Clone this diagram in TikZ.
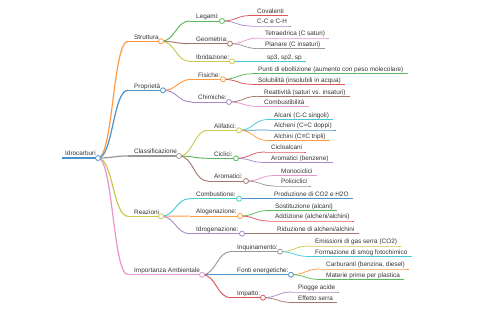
\documentclass[tikz,border=0pt]{standalone}
\usepackage{fontspec}
\setmainfont{Liberation Sans}
\usetikzlibrary{calc}
\definecolor{k0}{HTML}{4A92C8}
\definecolor{k1}{HTML}{FF9A42}
\definecolor{k2}{HTML}{5CB85C}
\definecolor{k3}{HTML}{DE5657}
\definecolor{k4}{HTML}{A98BCC}
\definecolor{k5}{HTML}{A3786F}
\definecolor{k6}{HTML}{E993CF}
\definecolor{k7}{HTML}{999999}
\definecolor{k8}{HTML}{C9CA4E}
\definecolor{k9}{HTML}{45CBD9}
\definecolor{txt}{HTML}{333333}
\newcommand\mmInner[7]{% id, color, lw, startx, y, circlex, text
  \coordinate (s#1) at (#4,#5);
  \coordinate (c#1) at (#6,#5);
  \node[mmtext] (t#1) at (#4+6,#5-2.2) {#7};
  \draw[#2,line width=#3] (s#1) -- (c#1);
}
\newcommand\mmLeaf[6]{% id, color, lw, startx, y, text
  \coordinate (s#1) at (#4,#5);
  \node[mmtext] (t#1) at (#4+6,#5-2.2) {#6};
  \draw[#2,line width=#3] (s#1) -- (s#1 -| t#1.east) -- ++(4,0);
}
\newcommand\mmLink[4]{% color, lw, from, to
  \draw[#1,line width=#2] let \p1=(#3), \p2=(#4) in
    (\p1) .. controls (\x1/2+\x2/2,\y1) and (\x1/2+\x2/2,\y2) .. (\p2);
}
\newcommand\mmDot[2]{\node[mmdot,draw=#2] (d#1) at (c#1) {};}
\tikzset{
  mmtext/.style={anchor=base west,inner sep=0pt,text=txt,font=\fontsize{6.4}{7}\selectfont},
  mmdot/.style={circle,fill=white,line width=0.8pt,minimum size=5pt,inner sep=0pt},
}
\begin{document}
\begin{tikzpicture}[x=1pt,y=-1pt]
\useasboundingbox (0,0) rectangle (480,320);
% root
\coordinate (sR) at (62,158);
\coordinate (cR) at (98,158);
\node[mmtext] (tR) at (65,155.8) {Idrocarburi};
\draw[k0,line width=1.6pt] (sR) -- (cR);
% level 1
\mmInner{A}{k1}{1.2pt}{128}{41.3}{161}{Struttura}
\mmInner{B}{k0}{1.2pt}{128}{90.3}{163}{Proprietà}
\mmInner{C}{k7}{1.2pt}{128}{156}{179}{Classificazione}
\mmInner{D}{k8}{1.2pt}{128}{216.3}{161}{Reazioni}
\mmInner{E}{k6}{1.2pt}{128}{274.7}{202}{Importanza Ambientale}
% level 2
\mmInner{A1}{k2}{0.95pt}{190}{21}{222}{Legami:}
\mmInner{A2}{k5}{0.95pt}{190}{43.7}{230}{Geometria:}
\mmInner{A3}{k8}{0.95pt}{190}{61.3}{232}{Ibridazione:}
\mmInner{B1}{k1}{0.95pt}{192}{79.3}{223}{Fisiche:}
\mmInner{B2}{k4}{0.95pt}{192}{102}{229}{Chimiche:}
\mmInner{C1}{k8}{0.95pt}{208}{130.3}{239}{Alifatici:}
\mmInner{C2}{k2}{0.95pt}{208}{158.3}{236}{Ciclici:}
\mmInner{C3}{k5}{0.95pt}{208}{181}{246}{Aromatici:}
\mmInner{D1}{k9}{0.95pt}{190}{198.7}{239}{Combustione:}
\mmInner{D2}{k1}{0.95pt}{190}{216}{240}{Alogenazione:}
\mmInner{D3}{k4}{0.95pt}{190}{233.7}{242}{Idrogenazione:}
\mmInner{E1}{k7}{0.95pt}{231}{251.7}{280}{Inquinamento:}
\mmInner{E2}{k0}{0.95pt}{231}{274.7}{291}{Fonti energetiche:}
\mmInner{E3}{k3}{0.95pt}{231}{297.7}{263}{Impatto:}
% level 3
\mmLeaf{A1a}{k3}{0.75pt}{251}{15.5}{Covalenti}
\mmLeaf{A1b}{k4}{0.75pt}{251}{26}{C-C e C-H}
\mmLeaf{A2a}{k6}{0.75pt}{259}{38}{Tetraedrica (C saturi)}
\mmLeaf{A2b}{k7}{0.75pt}{259}{48.7}{Planare (C insaturi)}
\mmLeaf{A3a}{k9}{0.75pt}{261}{61.3}{sp3, sp2, sp}
\mmLeaf{B1a}{k2}{0.75pt}{252}{73.8}{Punti di ebollizione (aumento con peso molecolare)}
\mmLeaf{B1b}{k3}{0.75pt}{252}{84.3}{Solubilità (insolubili in acqua)}
\mmLeaf{B2a}{k5}{0.75pt}{258}{96.3}{Reattività (saturi vs. insaturi)}
\mmLeaf{B2b}{k6}{0.75pt}{258}{106.5}{Combustibilità}
\mmLeaf{C1a}{k9}{0.75pt}{268}{119.5}{Alcani (C-C singoli)}
\mmLeaf{C1b}{k0}{0.75pt}{268}{130}{Alcheni (C=C doppi)}
\mmLeaf{C1c}{k1}{0.75pt}{268}{140.5}{Alchini (C≡C tripli)}
\mmLeaf{C2a}{k3}{0.75pt}{265}{152}{Cicloalcani}
\mmLeaf{C2b}{k4}{0.75pt}{265}{162.5}{Aromatici (benzene)}
\mmLeaf{C3a}{k6}{0.75pt}{275}{175.5}{Monociclici}
\mmLeaf{C3b}{k7}{0.75pt}{275}{186}{Policiclici}
\mmLeaf{D1a}{k0}{0.75pt}{268}{198.7}{Produzione di CO2 e H2O}
\mmLeaf{D2a}{k2}{0.75pt}{269}{210.5}{Sostituzione (alcani)}
\mmLeaf{D2b}{k3}{0.75pt}{269}{221}{Addizione (alcheni/alchini)}
\mmLeaf{D3a}{k5}{0.75pt}{271}{233.7}{Riduzione di alcheni/alchini}
\mmLeaf{E1a}{k8}{0.75pt}{309}{246}{Emissioni di gas serra (CO2)}
\mmLeaf{E1b}{k9}{0.75pt}{309}{256.5}{Formazione di smog fotochimico}
\mmLeaf{E2a}{k1}{0.75pt}{320}{269}{Carburanti (benzina, diesel)}
\mmLeaf{E2b}{k2}{0.75pt}{320}{279.5}{Materie prime per plastica}
\mmLeaf{E3a}{k4}{0.75pt}{292}{292}{Piogge acide}
\mmLeaf{E3b}{k5}{0.75pt}{292}{302.5}{Effetto serra}
% links
\mmLink{k1}{1.2pt}{cR}{sA}
\mmLink{k0}{1.2pt}{cR}{sB}
\mmLink{k7}{1.2pt}{cR}{sC}
\mmLink{k8}{1.2pt}{cR}{sD}
\mmLink{k6}{1.2pt}{cR}{sE}
\mmLink{k2}{0.95pt}{cA}{sA1}
\mmLink{k5}{0.95pt}{cA}{sA2}
\mmLink{k8}{0.95pt}{cA}{sA3}
\mmLink{k1}{0.95pt}{cB}{sB1}
\mmLink{k4}{0.95pt}{cB}{sB2}
\mmLink{k8}{0.95pt}{cC}{sC1}
\mmLink{k2}{0.95pt}{cC}{sC2}
\mmLink{k5}{0.95pt}{cC}{sC3}
\mmLink{k9}{0.95pt}{cD}{sD1}
\mmLink{k1}{0.95pt}{cD}{sD2}
\mmLink{k4}{0.95pt}{cD}{sD3}
\mmLink{k7}{0.95pt}{cE}{sE1}
\mmLink{k0}{0.95pt}{cE}{sE2}
\mmLink{k3}{0.95pt}{cE}{sE3}
\mmLink{k3}{0.75pt}{cA1}{sA1a}
\mmLink{k4}{0.75pt}{cA1}{sA1b}
\mmLink{k6}{0.75pt}{cA2}{sA2a}
\mmLink{k7}{0.75pt}{cA2}{sA2b}
\mmLink{k9}{0.75pt}{cA3}{sA3a}
\mmLink{k2}{0.75pt}{cB1}{sB1a}
\mmLink{k3}{0.75pt}{cB1}{sB1b}
\mmLink{k5}{0.75pt}{cB2}{sB2a}
\mmLink{k6}{0.75pt}{cB2}{sB2b}
\mmLink{k9}{0.75pt}{cC1}{sC1a}
\mmLink{k0}{0.75pt}{cC1}{sC1b}
\mmLink{k1}{0.75pt}{cC1}{sC1c}
\mmLink{k3}{0.75pt}{cC2}{sC2a}
\mmLink{k4}{0.75pt}{cC2}{sC2b}
\mmLink{k6}{0.75pt}{cC3}{sC3a}
\mmLink{k7}{0.75pt}{cC3}{sC3b}
\mmLink{k0}{0.75pt}{cD1}{sD1a}
\mmLink{k2}{0.75pt}{cD2}{sD2a}
\mmLink{k3}{0.75pt}{cD2}{sD2b}
\mmLink{k5}{0.75pt}{cD3}{sD3a}
\mmLink{k8}{0.75pt}{cE1}{sE1a}
\mmLink{k9}{0.75pt}{cE1}{sE1b}
\mmLink{k1}{0.75pt}{cE2}{sE2a}
\mmLink{k2}{0.75pt}{cE2}{sE2b}
\mmLink{k4}{0.75pt}{cE3}{sE3a}
\mmLink{k5}{0.75pt}{cE3}{sE3b}
% dots
\mmDot{R}{k0}
\mmDot{A}{k1}\mmDot{B}{k0}\mmDot{C}{k7}\mmDot{D}{k8}\mmDot{E}{k6}
\mmDot{A1}{k2}\mmDot{A2}{k5}\mmDot{A3}{k8}
\mmDot{B1}{k1}\mmDot{B2}{k4}
\mmDot{C1}{k8}\mmDot{C2}{k2}\mmDot{C3}{k5}
\mmDot{D1}{k9}\mmDot{D2}{k1}\mmDot{D3}{k4}
\mmDot{E1}{k7}\mmDot{E2}{k0}\mmDot{E3}{k3}
\end{tikzpicture}
\end{document}
